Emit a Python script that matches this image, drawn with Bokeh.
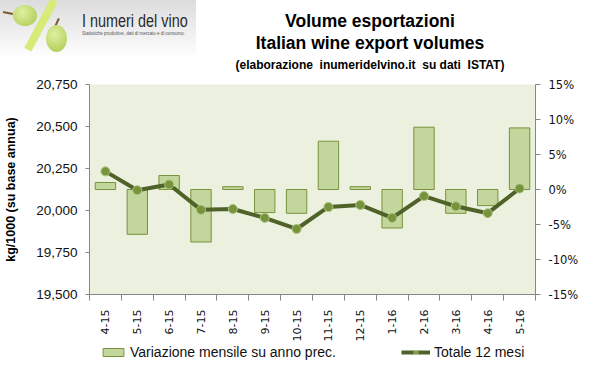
import math
from bokeh.plotting import figure
from bokeh.layouts import column
from bokeh.models import (Range1d, LinearAxis, FixedTicker, PrintfTickFormatter,
                          NumeralTickFormatter, Legend, LegendItem, ColumnDataSource, Div)
from bokeh.embed import file_html
from bokeh.resources import INLINE

# ---------------- data ----------------
months = ["4-15", "5-15", "6-15", "7-15", "8-15", "9-15", "10-15",
          "11-15", "12-15", "1-16", "2-16", "3-16", "4-16", "5-16"]
monthly_change_pct = [1.0, -6.4, 2.0, -7.5, 0.4, -3.3, -3.4,
                      6.9, 0.4, -5.5, 8.9, -3.4, -2.3, 8.8]
total_12m = [20233, 20121, 20155, 20004, 20009, 19956, 19890,
             20021, 20033, 19956, 20086, 20025, 19984, 20131]
left_ticks = [19500, 19750, 20000, 20250, 20500, 20750]
right_ticks = [-15, -10, -5, 0, 5, 10, 15]

title_lines = ["Volume esportazioni", "Italian wine export volumes",
               "(elaborazione&nbsp; inumeridelvino.it&nbsp; su dati&nbsp; ISTAT)"]
y_title = "kg/1000 (su base annua)"
bar_label = "Variazione mensile su anno prec."
line_label = "Totale 12 mesi"
logo_title = "I numeri del vino"
logo_sub = "Statistiche produttive, dati di mercato e di consumo."

W = 600
HEAD_H = 74
MAIN_H = 344 - HEAD_H
FOOT_H = 373 - 344
BL, BR = 89, 600 - 535
GRAY = "#868686"

# ---------------- header (logo + titles) ----------------
def box(style, inner=""):
    return f'<div style="position:absolute;{style}">{inner}</div>'

header_html = (
    '<div style="position:relative;width:600px;height:74px;overflow:hidden;'
    'background:white;font-family:\'Liberation Sans\',Arial,sans-serif;color:black;">'
    + box("left:0;top:0;width:196px;height:58px;"
          "background:linear-gradient(180deg,#dcdcdc 0%,#f4f4f4 70%,#ffffff 100%);")
    + box("left:37px;top:-3px;width:8px;height:56px;background:#D6EB78;"
          "transform:rotate(28deg);")
    + box("left:3px;top:12px;width:10px;height:1.5px;background:#7a5a2e;transform:rotate(12deg);")
    + box("left:13px;top:5px;width:24px;height:21px;border-radius:50%;"
          "background:radial-gradient(circle at 40% 35%,#dff0a0,#a8c74c);")
    + box("left:56px;top:18px;width:1.5px;height:9px;background:#7a5a2e;transform:rotate(25deg);")
    + box("left:46px;top:25px;width:21px;height:27px;border-radius:50%;"
          "background:radial-gradient(circle at 40% 35%,#dff0a0,#a8c74c);")
    + box("left:82px;top:10px;font-size:18px;line-height:22px;color:#2a2a2a;"
          "transform:scaleX(0.8);transform-origin:0 0;white-space:nowrap;",
          logo_title)
    + box("left:82px;top:31px;font-size:4.5px;line-height:5px;color:#555555;white-space:nowrap;",
          logo_sub)
    + box("left:0;top:11px;width:740px;text-align:center;font-weight:bold;"
          "font-size:17.5px;line-height:20px;white-space:nowrap;", title_lines[0])
    + box("left:0;top:33px;width:740px;text-align:center;font-weight:bold;"
          "font-size:17.5px;line-height:20px;white-space:nowrap;", title_lines[1])
    + box("left:0;top:58px;width:740px;text-align:center;font-weight:bold;"
          "font-size:12px;line-height:14px;white-space:nowrap;", title_lines[2])
    + '</div>'
)
header = Div(text=header_html, width=W, height=HEAD_H, margin=0)

# ---------------- main chart ----------------
xs = [i + 0.5 for i in range(len(months))]
src = ColumnDataSource(dict(x=xs, m=months, pct=monthly_change_pct, tot=total_12m))

FRAME_TOP = 84 - HEAD_H
FRAME_H = 212
p = figure(width=W, height=MAIN_H, output_backend="svg", toolbar_location=None,
           title=None, x_range=Range1d(0, len(months)),
           y_range=Range1d(left_ticks[0], left_ticks[-1]),
           min_border_left=BL, min_border_right=BR, min_border_top=FRAME_TOP,
           min_border_bottom=MAIN_H - FRAME_TOP - FRAME_H,
           x_axis_type=None, y_axis_type=None, margin=0)
p.background_fill_color = "#EBF1DE"
p.border_fill_color = "white"
p.outline_line_color = None
p.extra_y_ranges = {"pct": Range1d(right_ticks[0], right_ticks[-1])}

yl = LinearAxis(ticker=FixedTicker(ticks=left_ticks),
                formatter=NumeralTickFormatter(format="0,0"))
yl.axis_line_color = GRAY
yl.major_tick_line_color = GRAY
yl.major_tick_out = 4
yl.major_tick_in = 0
yl.minor_tick_line_color = None
yl.major_label_text_font = "Liberation Sans"
yl.major_label_text_font_size = "13.5px"
yl.major_label_text_color = "#111111"
yl.major_label_standoff = 8
yl.axis_label = y_title
yl.axis_label_text_font = "Liberation Sans"
yl.axis_label_text_font_size = "12.5px"
yl.axis_label_text_font_style = "bold"
yl.axis_label_text_color = "black"
yl.axis_label_standoff = 15
p.add_layout(yl, "left")

yr = LinearAxis(y_range_name="pct", ticker=FixedTicker(ticks=right_ticks),
                formatter=PrintfTickFormatter(format="%d%%"))
yr.axis_line_color = GRAY
yr.major_tick_line_color = GRAY
yr.major_tick_out = 5
yr.major_tick_in = 0
yr.minor_tick_line_color = None
yr.major_label_text_font = "DejaVu Sans"
yr.major_label_text_font_size = "11.5px"
yr.major_label_text_color = "#111111"
yr.major_label_standoff = 8
p.add_layout(yr, "right")

xa = LinearAxis(ticker=FixedTicker(ticks=xs, minor_ticks=list(range(len(months) + 1))),
                major_label_overrides={x: m for x, m in zip(xs, months)})
xa.axis_line_color = GRAY
xa.major_tick_line_color = None
xa.major_tick_out = 0
xa.major_tick_in = 0
xa.minor_tick_line_color = GRAY
xa.minor_tick_out = 6
xa.minor_tick_in = 0
xa.major_label_orientation = math.pi / 2
xa.major_label_text_font = "DejaVu Sans"
xa.major_label_text_font_size = "11px"
xa.major_label_text_color = "#111111"
xa.major_label_standoff = 9
p.add_layout(xa, "below")

p.ygrid.ticker = FixedTicker(ticks=left_ticks)
p.ygrid.grid_line_color = GRAY
p.xgrid.grid_line_color = None

BAR_STYLE = dict(fill_color="#C3D69B", line_color="#77933C", line_width=1)
LINE_STYLE = dict(line_width=4, line_color="#4F6228")
MARK_STYLE = dict(size=9, fill_color="#77933C", line_color="#A9C47F", line_width=1)

p.vbar(x="x", top="pct", bottom=0, width=0.64, source=src, y_range_name="pct", **BAR_STYLE)
p.line(x="x", y="tot", source=src, **LINE_STYLE)
p.scatter(x="x", y="tot", source=src, **MARK_STYLE)

# ---------------- footer (legend) ----------------
ft = figure(width=W, height=FOOT_H, output_backend="svg", toolbar_location=None,
            title=None, x_range=Range1d(0, 1), y_range=Range1d(0, 1),
            x_axis_type=None, y_axis_type=None, min_border_left=BL,
            min_border_right=BR, min_border_top=0, min_border_bottom=0, margin=0)
ft.outline_line_color = None
ft.grid.visible = False
ft.background_fill_color = "white"
ft.border_fill_color = "white"
# legend-only renderers (no visible data: NaN coordinates)
blank = ColumnDataSource(dict(x=[float("nan")], y=[float("nan")]))
lb = ft.vbar(x="x", top="y", width=0.5, source=blank, **BAR_STYLE)
ll = ft.line(x="x", y="y", source=blank, **LINE_STYLE)
lm = ft.scatter(x="x", y="y", source=blank, **MARK_STYLE)

leg_common = dict(orientation="horizontal", padding=0, margin=0, border_line_alpha=0,
                  background_fill_alpha=0, label_standoff=4, label_height=14,
                  label_text_font="Liberation Sans", label_text_font_size="14px",
                  label_text_color="#111111", glyph_height=10)
ft.add_layout(Legend(items=[LegendItem(label=bar_label, renderers=[lb])],
                     location=(100 - BL, 13), glyph_width=26, **leg_common))
ft.add_layout(Legend(items=[LegendItem(label=line_label, renderers=[ll, lm])],
                     location=(401 - BL, 13), glyph_width=29, **leg_common))

layout = column(header, p, ft, spacing=0, margin=0)
open("out.html", "w").write(file_html(layout, INLINE))
